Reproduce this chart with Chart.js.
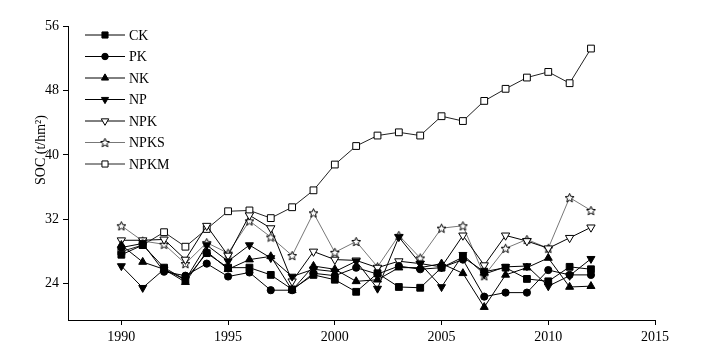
<!DOCTYPE html>
<html><head><meta charset="utf-8">
<script src="https://cdn.jsdelivr.net/npm/chart.js@4/dist/chart.umd.min.js"></script>
<style>html,body{margin:0;padding:0;background:#fff;}</style>
</head><body>
<canvas id="c" width="708" height="355"></canvas>
<script>
const years = [1990,1991,1992,1993,1994,1995,1996,1997,1998,1999,2000,2001,2002,2003,2004,2005,2006,2007,2008,2009,2010,2011,2012];
const CK   = [27.6,28.8,26.0,24.5,27.8,26.0,26.0,25.1,23.3,25.1,24.5,23.0,25.3,23.6,23.5,26.0,27.3,25.5,26.0,24.6,24.3,26.1,25.8];
const PK   = [28.5,29.0,25.5,25.0,26.5,24.9,25.4,23.2,23.2,25.3,25.0,26.0,25.2,26.2,25.8,26.0,27.0,22.4,22.9,22.9,25.7,25.1,25.1];
const NK   = [28.8,26.7,25.8,24.2,28.0,25.8,27.0,27.4,23.2,26.2,25.8,24.3,24.5,26.0,26.0,26.5,25.3,21.1,25.1,26.0,27.2,23.6,23.7];
const NP   = [26.2,23.5,25.8,24.5,28.8,26.8,28.8,27.2,24.9,25.8,25.5,26.8,23.4,29.8,26.5,23.6,27.6,25.2,26.1,26.2,23.7,25.0,27.1];
const NPK  = [29.4,29.4,29.5,27.0,31.2,27.5,32.5,30.9,24.3,28.0,27.0,26.9,26.0,26.8,26.5,26.1,30.0,26.3,30.0,29.3,28.4,29.7,31.0];
const NPKS = [31.2,29.3,28.9,26.5,29.1,27.8,31.8,29.8,27.5,32.8,27.9,29.25,26.1,30.0,27.2,30.9,31.2,25.0,28.4,29.5,28.4,34.7,33.1];
const NPKM = [28.0,28.8,30.4,28.6,30.8,33.0,33.1,32.15,33.5,35.6,38.8,41.1,42.4,42.8,42.4,44.8,44.2,46.7,48.2,49.6,50.3,48.9,53.2];
const seriesNames = ['CK','PK','NK','NP','NPK','NPKS','NPKM'];
const xTicks = [1990,1995,2000,2005,2010,2015];
const yTicks = [24,32,40,48,56];
const yTitle = 'SOC (t/hm\u00B2)';

const FONT = "'Liberation Serif','Times New Roman',serif";

function makeStar(size){
  const c = document.createElement('canvas');
  c.width = size; c.height = size;
  const g = c.getContext('2d');
  const cx = size/2, cy = size/2 + 0.5, R = size/2 - 0.8, r = R*0.45;
  g.beginPath();
  for (let i=0;i<10;i++){
    const a = -Math.PI/2 + i*Math.PI/5;
    const rr = i%2===0 ? R : r;
    const px = cx + rr*Math.cos(a), py = cy + rr*Math.sin(a);
    if(i===0) g.moveTo(px,py); else g.lineTo(px,py);
  }
  g.closePath();
  g.fillStyle = '#fff'; g.fill();
  g.strokeStyle = '#000'; g.lineWidth = 1; g.stroke();
  return c;
}
const starImg = makeStar(11);

const toPts = arr => years.map((y,i)=>({x:y, y:arr[i]}));
const styles = [
  {data:CK,   pointStyle:'rect',     rotation:0,   bg:'#000', r:4.8, line:'#000'},
  {data:PK,   pointStyle:'circle',   rotation:0,   bg:'#000', r:3.6, line:'#000'},
  {data:NK,   pointStyle:'triangle', rotation:0,   bg:'#000', r:4.6, line:'#000'},
  {data:NP,   pointStyle:'triangle', rotation:180, bg:'#000', r:4.6, line:'#000'},
  {data:NPK,  pointStyle:'triangle', rotation:180, bg:'#fff', r:4.8, line:'#000'},
  {data:NPKS, pointStyle:starImg,    rotation:0,   bg:'#fff', r:5,   line:'#777'},
  {data:NPKM, pointStyle:'rect',     rotation:0,   bg:'#fff', r:4.8, line:'#222'}
];
const datasets = styles.map((s,i)=>({
  label: seriesNames[i],
  data: toPts(s.data),
  borderColor: s.line,
  borderWidth: 1,
  pointStyle: s.pointStyle,
  pointRotation: s.rotation,
  pointRadius: s.r,
  pointBackgroundColor: s.bg,
  pointBorderColor: '#000',
  pointBorderWidth: 1,
  tension: 0,
  fill: false
}));

const legendPlugin = {
  id:'customLegend',
  afterDraw(chart){
    const ctx = chart.ctx;
    ctx.save();
    chart.data.datasets.forEach((ds,i)=>{
      const y = 35 + i*21.5;
      ctx.strokeStyle = ds.borderColor; ctx.lineWidth = 1;
      ctx.beginPath(); ctx.moveTo(85,y); ctx.lineTo(125,y); ctx.stroke();
      ctx.fillStyle = ds.pointBackgroundColor; ctx.strokeStyle = '#000'; ctx.lineWidth = 1;
      Chart.helpers.drawPoint(ctx,{pointStyle:ds.pointStyle, rotation:ds.pointRotation, radius:ds.pointRadius*0.9, borderWidth:1}, 105, y);
      ctx.fillStyle = '#000';
      ctx.font = "14px " + FONT;
      ctx.textAlign = 'left'; ctx.textBaseline = 'middle';
      ctx.fillText(ds.label, 129, y+1);
    });
    // y-axis title
    ctx.translate(41, 150);
    ctx.rotate(-Math.PI/2);
    ctx.font = "14px " + FONT;
    ctx.textAlign = 'center'; ctx.textBaseline = 'middle';
    ctx.fillText(yTitle, 0, 0);
    ctx.restore();
  }
};

new Chart(document.getElementById('c'), {
  type:'line',
  data:{datasets},
  options:{
    responsive:false,
    animation:false,
    layout:{padding:{left:0,right:53,top:26,bottom:0}},
    plugins:{legend:{display:false}, tooltip:{enabled:false}},
    scales:{
      x:{
        type:'linear', min:1987.5, max:2015,
        afterBuildTicks(s){ s.ticks = xTicks.map(v=>({value:v})); },
        afterFit(s){ s.height = 35; },
        grid:{display:true, drawOnChartArea:false, drawTicks:true, tickLength:5, color:'#000'},
        border:{display:true, color:'#000', width:1},
        ticks:{color:'#000', font:{family:FONT, size:14}, padding:4, maxRotation:0, callback:v=>String(v)}
      },
      y:{
        type:'linear', min:19.5, max:56,
        afterBuildTicks(s){ s.ticks = yTicks.map(v=>({value:v})); },
        afterFit(s){ s.width = 68; },
        grid:{display:true, drawOnChartArea:false, drawTicks:true, tickLength:5, color:'#000'},
        border:{display:true, color:'#000', width:1},
        ticks:{color:'#000', font:{family:FONT, size:14}, padding:4}
      }
    }
  },
  plugins:[legendPlugin]
});
</script>
</body></html>
